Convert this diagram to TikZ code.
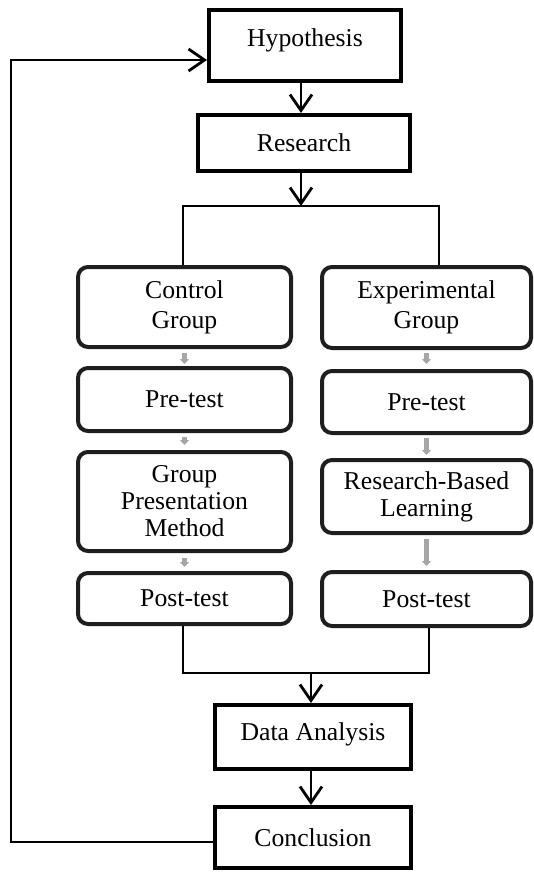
\documentclass[tikz,border=0pt]{standalone}
\usepackage{fontspec}
\setmainfont{Liberation Serif}
\usetikzlibrary{arrows.meta}
\definecolor{boxgrey}{RGB}{30,30,30}
\definecolor{arrowgrey}{RGB}{166,166,166}
\tikzset{
	sbox/.style={draw, line width=2pt, inner sep=0pt, align=center, font=\fontsize{12.85}{13.5}\selectfont},
	rbox/.style={draw=boxgrey, line width=2pt, rounded corners=5pt, inner sep=0pt, align=center, font=\fontsize{12.85}{13.5}\selectfont},
	arr/.style={line width=1.4pt, -{Straight Barb[length=8pt,width=11pt]}},
	conn/.style={line width=1.4pt},
	garr/.style={draw=arrowgrey, line width=2.2pt, -{Triangle[length=2.5pt,width=4.5pt]}}
}
\begin{document}
\begin{tikzpicture}[x=0.5pt,y=-0.5pt]
		\useasboundingbox (0,0) rectangle (534,872);
		%Top boxes
		\node[sbox, minimum width=96pt, minimum height=35.5pt, text depth=8pt] (hyp) at (305,45.5) {Hypothesis};
		\node[sbox, minimum width=106pt, minimum height=28pt] (res) at (304,143) {Research};
		%Control group column
		\node[rbox, minimum width=106.5pt, minimum height=40pt, font=\fontsize{12.85}{15}\selectfont] (cgrp) at (184.5,307) {Control\\Group};
		\node[rbox, minimum width=106.5pt, minimum height=31.5pt] (cpre) at (184.5,399.5) {Pre-test};
		\node[rbox, minimum width=106.5pt, minimum height=49.5pt] (gpm) at (184.5,501.5) {Group\\Presentation\\Method};
		\node[rbox, minimum width=106.5pt, minimum height=25.5pt] (cpost) at (184.5,598.5) {Post-test};
		%Experimental group column
		\node[rbox, minimum width=104.5pt, minimum height=40.5pt, font=\fontsize{12.85}{15}\selectfont] (egrp) at (426.5,307.5) {Experimental\\Group};
		\node[rbox, minimum width=104.5pt, minimum height=31pt] (epre) at (426.5,402) {Pre-test};
		\node[rbox, minimum width=104.5pt, minimum height=36.5pt] (rbl) at (426.5,496.5) {Research-Based\\Learning};
		\node[rbox, minimum width=104.5pt, minimum height=27pt] (epost) at (426.5,599) {Post-test};
		%Bottom boxes
		\node[sbox, minimum width=98pt, minimum height=32pt, text depth=5pt] (dat) at (313,737) {Data Analysis};
		\node[sbox, minimum width=98pt, minimum height=30.5pt] (con) at (313,837.5) {Conclusion};
		%Helper points
		\coordinate (split) at (301,206);
		\coordinate (bl) at (183,206);
		\coordinate (br) at (439,206);
		\coordinate (join) at (311,673);
		\coordinate (loopA) at (11,842);
		\coordinate (loopB) at (11,60);
		%Black connectors
		\draw[arr] (hyp.south -| split) -- (res.north -| split);
		\draw[arr] (res.south -| split) -- (split);
		\draw[conn] (cgrp.north -| bl) -- (bl) -- (br) -- (egrp.north -| br);
		\draw[conn] (cpost.south -| bl) |- (join) -| (epost.south -| 429,0) -- (epost.south -| 429,0);
		\draw[arr] (join) -- (dat.north -| join);
		\draw[arr] (dat.south -| join) -- (con.north -| join);
		\draw[arr] (con.west |- loopA) -- (loopA) -- (loopB) -- (hyp.west |- loopB);
		%Grey arrows
		\draw[garr, shorten <=2pt, shorten >=1pt] (cgrp) -- (cpre);
		\draw[garr, shorten <=2pt, shorten >=2.5pt] (cpre) -- (gpm);
		\draw[garr, shorten <=2.5pt, shorten >=2pt] (gpm) -- (cpost);
		\draw[garr, shorten <=1.5pt, shorten >=2.5pt] (egrp) -- (epre);
		\draw[garr, shorten <=1.5pt, shorten >=1.5pt] (epre) -- (rbl);
		\draw[garr, shorten <=2pt, shorten >=2pt] (rbl) -- (epost);
\end{tikzpicture}
\end{document}
